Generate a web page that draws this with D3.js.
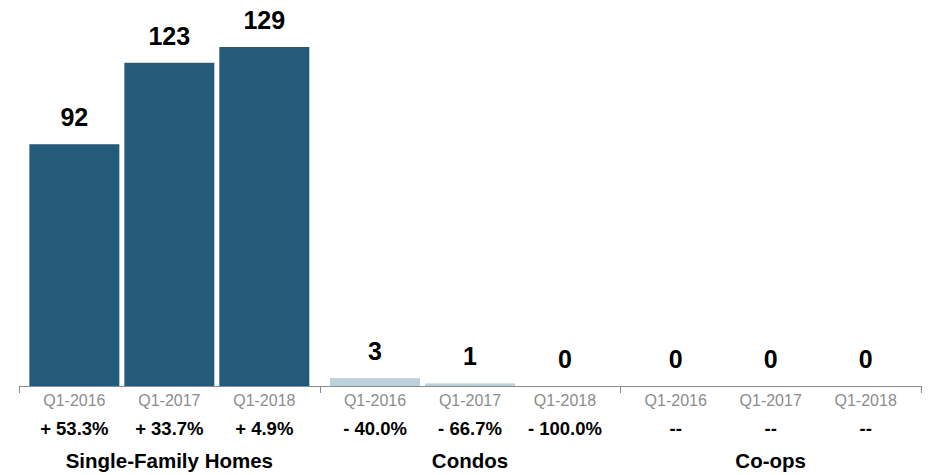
<!DOCTYPE html>
<html>
<head>
<meta charset="utf-8">
<script src="https://cdn.jsdelivr.net/npm/d3@7"></script>
<style>
  html, body { margin: 0; padding: 0; background: #fff; }
  svg { display: block; }
  text { font-family: "Liberation Sans", Arial, Helvetica, sans-serif; }
</style>
</head>
<body>
<svg id="chart" width="930" height="475"></svg>
<script>
const groups = ["Single-Family Homes", "Condos", "Co-ops"];
const periods = ["Q1-2016", "Q1-2017", "Q1-2018"];
const sfhValues = [92, 123, 129];
const condoValues = [3, 1, 0];
const coopValues = [0, 0, 0];
const sfhChange = ["+ 53.3%", "+ 33.7%", "+ 4.9%"];
const condoChange = ["- 40.0%", "- 66.7%", "- 100.0%"];
const coopChange = ["--", "--", "--"];

const valuesByGroup = [sfhValues, condoValues, coopValues];
const changeByGroup = [sfhChange, condoChange, coopChange];
const colorByGroup = ["#245b7a", "#bcd2db", "#bcd2db"];

const data = [];
groups.forEach((g, gi) => {
  periods.forEach((p, pi) => {
    data.push({ group: g, period: p, value: valuesByGroup[gi][pi], change: changeByGroup[gi][pi], color: colorByGroup[gi] });
  });
});

const svg = d3.select("#chart");
const baseY = 386;

const x0 = d3.scaleBand().domain(groups).range([19, 921]).padding(0);
const x1 = d3.scaleBand().domain(periods).range([0, x0.bandwidth()])
  .paddingInner(5 / 95).paddingOuter(0.109);
const y = d3.scaleLinear().domain([0, 129]).range([baseY, 47]);

const g = svg.append("g");

// bars
g.selectAll("rect.bar").data(data).join("rect")
  .attr("class", "bar")
  .attr("x", d => x0(d.group) + x1(d.period))
  .attr("width", x1.bandwidth())
  .attr("y", d => y(d.value))
  .attr("height", d => baseY - y(d.value))
  .attr("fill", d => d.color);

// value labels
g.selectAll("text.val").data(data).join("text")
  .attr("class", "val")
  .attr("x", d => x0(d.group) + x1(d.period) + x1.bandwidth() / 2)
  .attr("y", d => y(d.value) - 18)
  .attr("text-anchor", "middle")
  .attr("font-size", 25)
  .attr("font-weight", "bold")
  .attr("fill", "#000")
  .text(d => d.value);

// axis line with group boundary ticks
const bounds = groups.map(gr => x0(gr)).concat([x0.range()[1]]);
g.append("line")
  .attr("x1", x0.range()[0]).attr("x2", x0.range()[1])
  .attr("y1", baseY + 0.5).attr("y2", baseY + 0.5)
  .attr("stroke", "#8a8a8a").attr("stroke-width", 1);
g.selectAll("line.tick").data(bounds).join("line")
  .attr("class", "tick")
  .attr("x1", d => Math.round(d) + 0.5).attr("x2", d => Math.round(d) + 0.5)
  .attr("y1", baseY).attr("y2", baseY + 7)
  .attr("stroke", "#8a8a8a").attr("stroke-width", 1);

// period labels via axis per group
groups.forEach(gr => {
  const ax = g.append("g")
    .attr("transform", `translate(${x0(gr)},${baseY})`)
    .call(d3.axisBottom(x1).tickSize(0).tickPadding(20));
  ax.select(".domain").remove();
  ax.selectAll("text")
    .attr("font-size", 16)
    .attr("font-family", "'Liberation Sans', Arial, sans-serif")
    .attr("fill", "#8c8c8c")
    .attr("dy", null)
    .attr("y", 20);
});

// change labels
g.selectAll("text.chg").data(data).join("text")
  .attr("class", "chg")
  .attr("x", d => x0(d.group) + x1(d.period) + x1.bandwidth() / 2)
  .attr("y", 435)
  .attr("text-anchor", "middle")
  .attr("font-size", 18.5)
  .attr("font-weight", "bold")
  .attr("fill", "#000")
  .text(d => d.change);

// group labels
g.selectAll("text.grp").data(groups).join("text")
  .attr("class", "grp")
  .attr("x", d => x0(d) + x0.bandwidth() / 2)
  .attr("y", 467.5)
  .attr("text-anchor", "middle")
  .attr("font-size", 20.5)
  .attr("font-weight", "bold")
  .attr("fill", "#000")
  .text(d => d);
</script>
</body>
</html>
